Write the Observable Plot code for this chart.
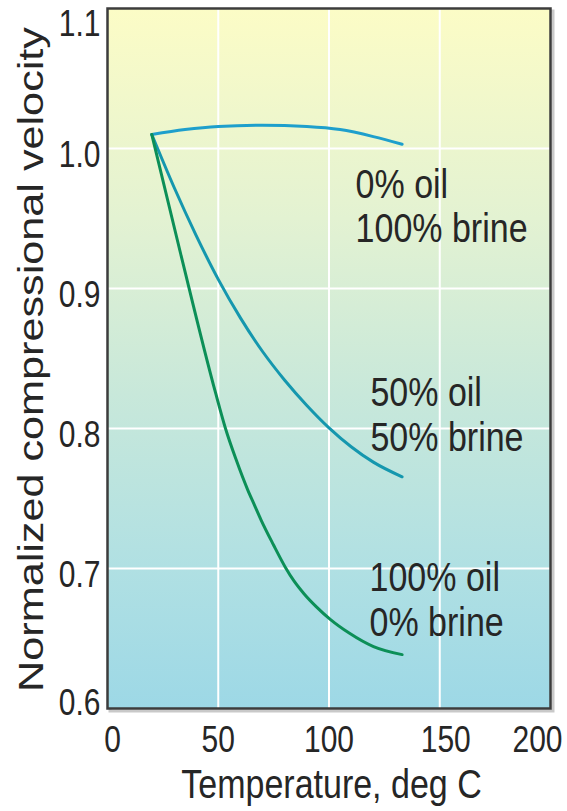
<!DOCTYPE html>
<html><head><meta charset="utf-8">
<script src="https://cdn.jsdelivr.net/npm/d3@7"></script>
<script src="https://cdn.jsdelivr.net/npm/@observablehq/plot@0.6"></script>
<style>body{margin:0;background:#fff;}</style>
</head><body><div id="chart"></div>
<script>
// Series: temperature (deg C) and normalized compressional velocity
const temps0 = [20, 35, 50, 70, 90, 105, 120, 133];
const vel0   = [1.010, 1.0135, 1.0157, 1.0166, 1.0157, 1.0135, 1.0085, 1.003];

const temps50 = [20, 30, 40, 50, 60, 70, 80, 90, 100, 110, 120, 133];
const vel50   = [1.010, 0.9725, 0.938, 0.9065, 0.879, 0.855, 0.8345, 0.8165, 0.8005, 0.787, 0.776, 0.7655];

const temps100 = [20, 33, 48.8, 53.2, 58.1, 63.3, 66.3, 69.3, 74.9, 80.4, 84.1, 88.7, 94.2, 100.7, 109.1, 120.1, 133];
const vel100   = [1.010, 0.925, 0.8254, 0.8004, 0.7776, 0.7562, 0.7455, 0.7348, 0.7170, 0.7006, 0.6913, 0.6820, 0.6728, 0.6635, 0.6539, 0.6442, 0.6385];

const seriesNames = ["0% oil\n100% brine", "50% oil\n50% brine", "100% oil\n0% brine"];
const seriesColors = ["#1e9fcc", "#1597ae", "#0c8f57"];
// label anchors in data space (temperature, velocity)
const labelTemps = [112, 118.7, 118.3];
const labelVels = [0.9877, 0.8387, 0.7067];

const xTicks = [0, 50, 100, 150, 200];
const yTicks = [0.6, 0.7, 0.8, 0.9, 1.0, 1.1];
const xTitle = "Temperature, deg C";
const yTitle = "Normalized compressional velocity";

const allT = [temps0, temps50, temps100];
const allV = [vel0, vel50, vel100];
const rows = seriesNames.flatMap((name, s) => allT[s].map((t, i) => ({series: name, t, v: allV[s][i]})));
const labels = seriesNames.map((name, i) => ({name, t: labelTemps[i], v: labelVels[i]}));

const ink = "#262626";
const tickOpts = {tickSize: 0, fontSize: 30, label: null, fill: ink};
const svg = Plot.plot({
  width: 567,
  height: 811,
  marginLeft: 107,
  marginRight: 17,
  marginTop: 8,
  marginBottom: 103,
  x: {domain: [0, 200], label: null},
  y: {domain: [0.6, 1.1], label: null},
  color: {domain: seriesNames, range: seriesColors},
  style: {background: "white", color: ink, fontFamily: "'Liberation Sans', Arial, Helvetica, sans-serif"},
  marks: [
    Plot.frame({stroke: "#c9c9c9", strokeWidth: 3, dx: 2.5, dy: 2.5}),
    Plot.frame({fill: "url(#bg)"}),
    Plot.gridX(xTicks.slice(1, 4), {stroke: "white", strokeOpacity: 1, strokeWidth: 2}),
    Plot.gridY(yTicks.slice(1, 5), {stroke: "white", strokeOpacity: 1, strokeWidth: 2}),
    Plot.line(rows, {x: "t", y: "v", z: "series", stroke: "series", strokeWidth: 3, curve: "monotone-x"}),
    Plot.text(labels, {x: "t", y: "v", text: "name", textAnchor: "start", lineAnchor: "top", lineHeight: 1.1, fontSize: 34, fill: ink}),
    Plot.frame({stroke: "#3c3c3c", strokeWidth: 2.5}),
    Plot.axisX([xTicks[1], xTicks[2]], {...tickOpts, tickPadding: 18}),
    Plot.axisX([xTicks[0]], {...tickOpts, tickPadding: 18, dx: 5}),
    Plot.axisX([xTicks[3]], {...tickOpts, tickPadding: 18, dx: 6}),
    Plot.axisX([xTicks[4]], {...tickOpts, tickPadding: 18, dx: -13}),
    Plot.axisY(yTicks.slice(1, 5), {...tickOpts, tickPadding: 7, dy: 7, tickFormat: d3.format(".1f")}),
    Plot.axisY([yTicks[5]], {...tickOpts, tickPadding: 7, dy: 16, tickFormat: d3.format(".1f")}),
    Plot.axisY([yTicks[0]], {...tickOpts, tickPadding: 7, dy: -5, tickFormat: d3.format(".1f")}),
    Plot.text([xTitle], {frameAnchor: "bottom", textAnchor: "middle", lineAnchor: "middle", dy: 76, dx: 2.5, fontSize: 34, fill: ink}),
    Plot.text([yTitle], {frameAnchor: "left", textAnchor: "middle", lineAnchor: "middle", rotate: -90, dx: -76.5, dy: 1, fontSize: 36, fill: ink})
  ]
});

const ns = "http://www.w3.org/2000/svg";
const defs = document.createElementNS(ns, "defs");
defs.innerHTML = `<linearGradient id="bg" x1="0" y1="0" x2="0" y2="1">
  <stop offset="0" stop-color="#fcfcc6"/>
  <stop offset="0.3" stop-color="#e3f2d2"/>
  <stop offset="0.55" stop-color="#c8e8da"/>
  <stop offset="0.8" stop-color="#b0e0e3"/>
  <stop offset="1" stop-color="#9dd8e6"/>
</linearGradient>`;
svg.insertBefore(defs, svg.firstChild);

// the reference lettering is slightly tall: stretch text vertically
svg.querySelectorAll("text").forEach(t => {
  const tr = t.getAttribute("transform") || "";
  t.setAttribute("transform", tr + (/rotate/.test(tr) ? " scale(1.2,1)" : " scale(1,1.2)"));
});

document.getElementById("chart").appendChild(svg);
</script>
</body></html>
